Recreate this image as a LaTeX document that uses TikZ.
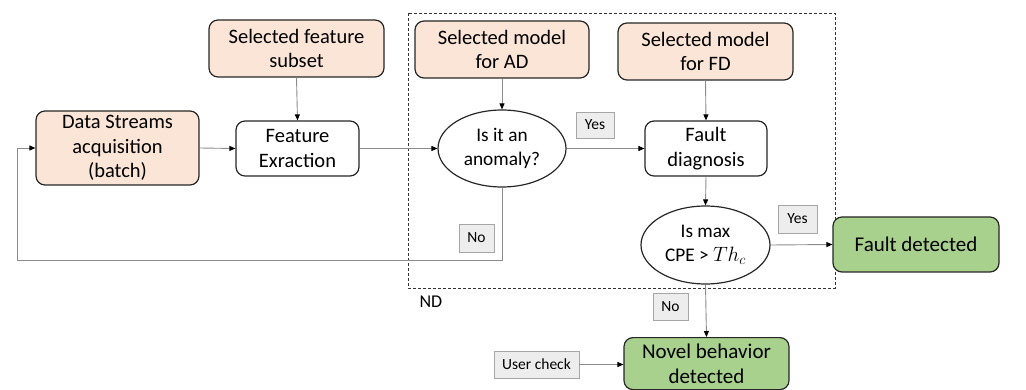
\documentclass[tikz,border=0pt]{standalone}
\usepackage{fontspec}
\setmainfont{Carlito}
\usetikzlibrary{arrows.meta,shapes.geometric}
\definecolor{peach}{HTML}{FBE5D6}
\definecolor{leaf}{HTML}{A9D18E}
\definecolor{linegray}{HTML}{8C8C8C}
\definecolor{tagfill}{HTML}{EDEDED}
\definecolor{tagdraw}{HTML}{A6A6A6}
\tikzset{
  box/.style={draw=black!85, line width=1.2pt, rounded corners=9pt, align=center,
    inner sep=1pt, font=\fontsize{20.5}{24.5}\selectfont},
  inbox/.style={box, fill=peach},
  outbox/.style={box, fill=leaf, font=\fontsize{21}{24.5}\selectfont},
  decision/.style={draw=black!85, line width=1.2pt, ellipse, align=center, inner sep=0pt,
    font=\fontsize{19.3}{24}\selectfont},
  tag/.style={draw=tagdraw, fill=tagfill, line width=0.8pt, inner sep=0pt,
    font=\fontsize{15.5}{18}\selectfont},
  arr/.style={draw=linegray, line width=0.9pt, -{Triangle[length=6pt,width=5pt,fill=black,color=black]}},
}
\begin{document}
\begin{tikzpicture}[x=1pt,y=-1pt]
\useasboundingbox (0,0) rectangle (1026,390);
\clip (0,0) rectangle (1026,390);

% boundary of the novelty detection stage
\draw[densely dashed, line width=0.8pt, black!80] (408,13) rectangle (835,288);
\node[font=\fontsize{18}{20}\selectfont, anchor=west] (nd) at (416,302) {ND};

% inputs
\node[inbox, minimum width=163pt, minimum height=74pt] (ds) at (117.5,148) {Data Streams\\acquisition\\(batch)};
\node[inbox, minimum width=175pt, minimum height=57pt] (fs) at (296.5,48.5) {Selected feature\\subset};
\node[inbox, minimum width=174pt, minimum height=57pt] (mad) at (502,49.5) {Selected model\\for AD};
\node[inbox, minimum width=175pt, minimum height=57pt] (mfd) at (705.5,51.5) {Selected model\\for FD};

% processing steps
\node[box, fill=white, minimum width=123pt, minimum height=55pt] (fe) at (297.5,148.5) {Feature\\Exraction};
\node[box, fill=white, minimum width=122pt, minimum height=55pt] (fd) at (706,148.5) {Fault\\diagnosis};

% decisions
\node[decision, minimum width=128pt, minimum height=77pt] (anom) at (502,148.5) {Is it an\\anomaly?};
\node[decision, minimum width=129pt, minimum height=78pt] (cpe) at (705.5,245) {Is max\\CPE > $Th_c$};

% outcomes
\node[outbox, minimum width=166pt, minimum height=55pt] (fault) at (916,244.5) {Fault detected};
\node[outbox, minimum width=165pt, minimum height=52pt, inner ysep=0.5pt, anchor=north] (novel) at (706.5,337) {Novel behavior\\detected};

% branch tags
\node[tag, minimum width=38pt, minimum height=26pt] (yes1) at (595,125) {Yes};
\node[tag, minimum width=39pt, minimum height=28pt] (yes2) at (797.5,219) {Yes};
\node[tag, minimum width=35pt, minimum height=28pt] (no1) at (476.5,238) {No};
\node[tag, minimum width=35pt, minimum height=27pt] (no2) at (670.5,306.5) {No};
\node[tag, minimum width=85pt, minimum height=27pt] (uc) at (536.5,364.5) {User check};

% connectors
\coordinate (lp) at (17,260);
\draw[arr] (fs.south) -- (fe.north);
\draw[arr] (ds.east) -- (fe.west);
\draw[arr] (fe.east) -- (anom.west);
\draw[arr] (mad.south) -- (anom.north);
\draw[arr] (anom.east) -- (fd.west);
\draw[arr] (mfd.south) -- (fd.north);
\draw[arr] (fd.south) -- (cpe.north);
\draw[arr] (cpe.east) -- (fault.west);
\draw[arr] (cpe.south) -- (novel.north);
\draw[arr] (uc.east) -- (uc.east -| novel.west);
\draw[arr] (anom.south) |- (lp) |- (ds.west);
\end{tikzpicture}
\end{document}
